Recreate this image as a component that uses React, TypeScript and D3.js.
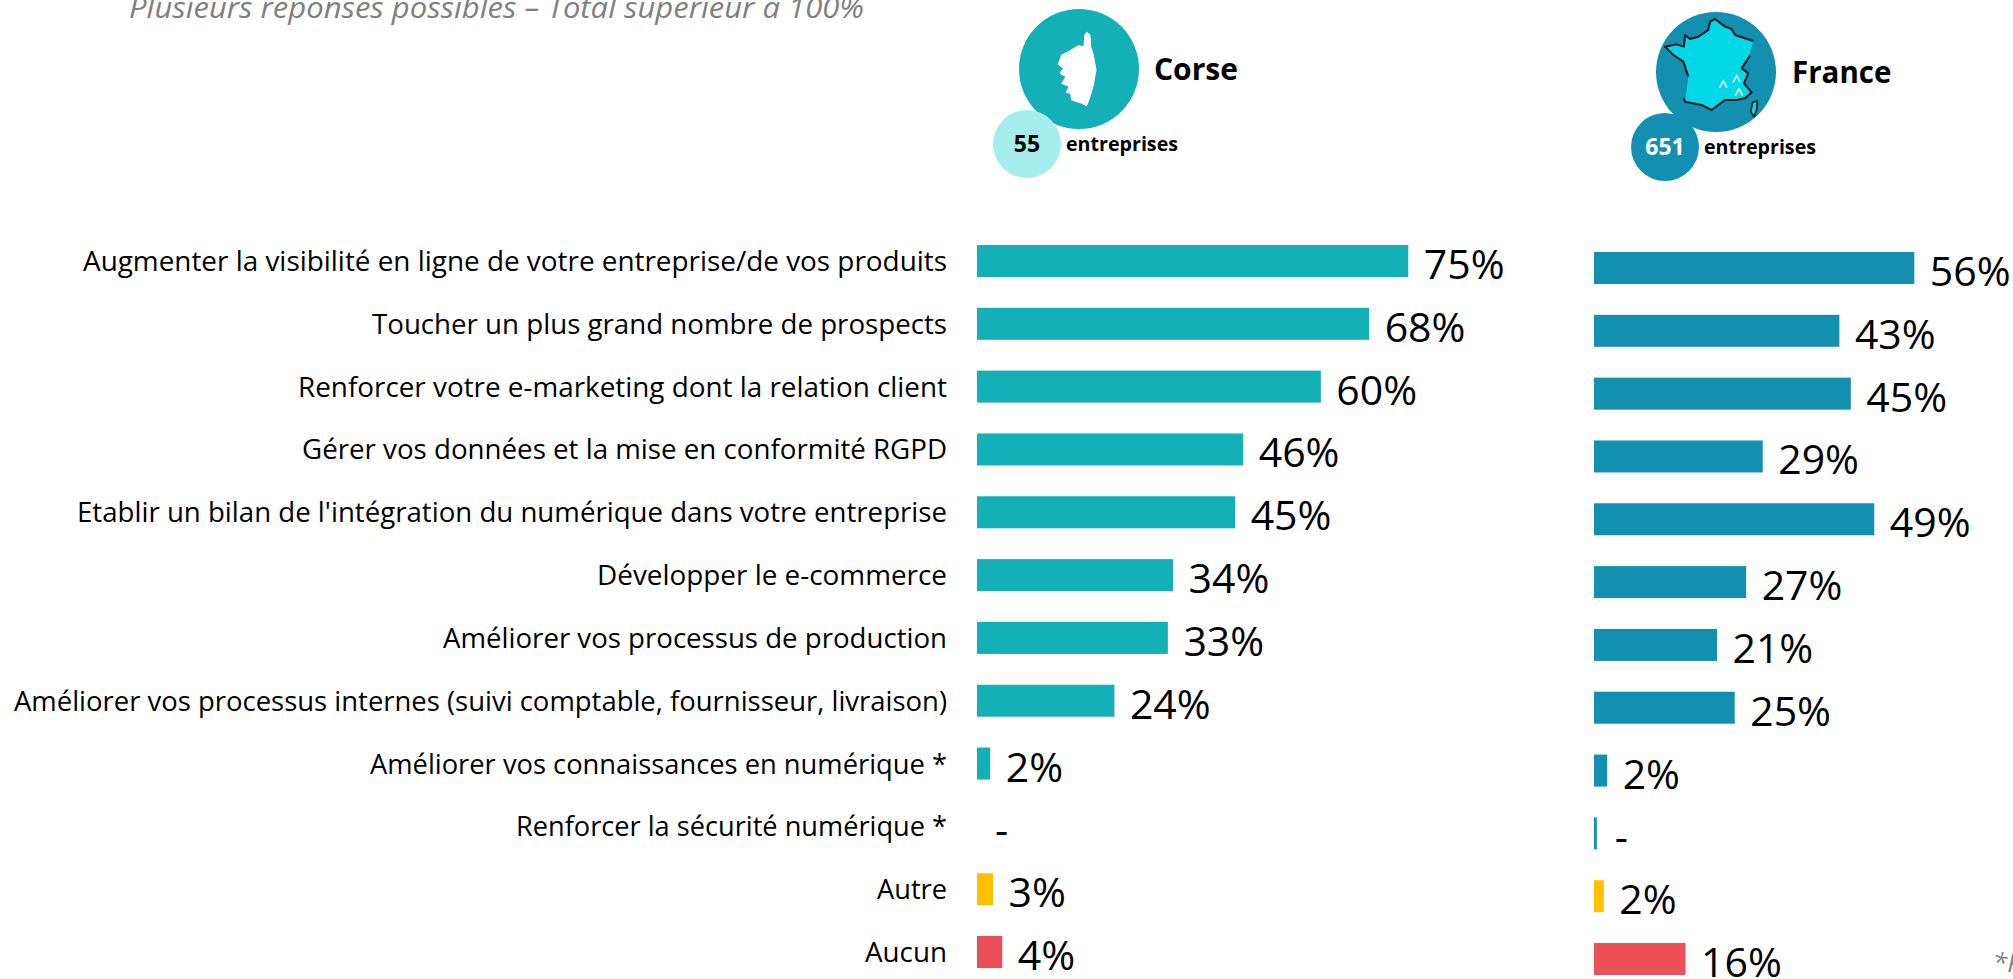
import React from "react";
import * as d3 from "d3";

const categories = [
  "Augmenter la visibilité en ligne de votre entreprise/de vos produits",
  "Toucher un plus grand nombre de prospects",
  "Renforcer votre e-marketing dont la relation client",
  "Gérer vos données et la mise en conformité RGPD",
  "Etablir un bilan de l'intégration du numérique dans votre entreprise",
  "Développer le e-commerce",
  "Améliorer vos processus de production",
  "Améliorer vos processus internes (suivi comptable, fournisseur, livraison)",
  "Améliorer vos connaissances en numérique *",
  "Renforcer la sécurité numérique *",
  "Autre",
  "Aucun",
];
const categoryTextWidths = [864, 575, 649, 645, 870, 350, 504, 933, 577, 431, 70, 82];
const corseValues = [75, 68.2, 59.8, 46.3, 44.9, 34.1, 33.2, 23.9, 2.3, 0, 2.8, 4.4];
const corseLabels = ["75%", "68%", "60%", "46%", "45%", "34%", "33%", "24%", "2%", "-", "3%", "4%"];
const franceValues = [56, 42.9, 44.9, 29.5, 49, 26.6, 21.5, 24.6, 2.3, 0.5, 1.7, 16];
const franceLabels = ["56%", "43%", "45%", "29%", "49%", "27%", "21%", "25%", "2%", "-", "2%", "16%"];

const FONT = "'Open Sans', 'Noto Sans', sans-serif";
const TEAL = "#13b0b8";
const BLUE = "#1390b0";
const YEL = "#ffc000";
const RED = "#e95058";
const ROW = 62.82;

const line = d3.line();
const franceOutline: [number, number][] = [[225,42],[255,65],[275,72],[285,90],[340,108],[328,150],[305,190],[325,205],[312,235],[335,262],[315,280],[290,285],[255,285],[235,300],[215,315],[185,300],[135,290],[145,215],[130,170],[100,150],[75,125],[110,118],[132,125],[135,90],[150,102],[175,95],[205,75],[210,50]];
const franceCoastWest: [number, number][] = [[145,215],[130,170],[100,150],[75,125],[110,118],[132,125],[135,90],[150,102],[175,95],[205,75],[210,50],[225,42],[255,65],[275,72],[285,90],[340,108]];
const franceCoastEast: [number, number][] = [[330,152],[305,190],[325,205],[312,235],[335,262],[315,280],[290,285],[255,285],[235,300],[215,315],[185,300],[135,290],[131,280]];
const corsicaSmall: [number, number][] = [[338,292],[352,288],[350,315],[342,335],[332,320]];
const corsicaLarge: [number, number][] = [[225,88],[232,82],[240,90],[242,125],[250,150],[258,195],[250,240],[240,275],[230,302],[215,295],[185,285],[182,265],[168,262],[178,245],[155,235],[168,215],[150,205],[160,190],[145,178],[155,150],[175,140],[205,122],[222,125]];
const peaks: [number, number][] = [[250,238],[290,222],[297,262]];

function Bars({ values, labels, x0, y0, span, color }: any) {
  const x = d3.scaleLinear().domain([0, 100]).range([x0, x0 + span]);
  const y = d3.scaleLinear().domain([0, 1]).range([y0, y0 + ROW]);
  const colorOf = (i: number) => (i === 10 ? YEL : i === 11 ? RED : color);
  return (
    <g>
      {values.map((v: number, i: number) => (
        <g key={i}>
          {v > 0 && <rect x={x(0)} y={y(i)} width={x(v) - x(0)} height={32} fill={colorOf(i)} />}
          <text x={x(v) + (labels[i] === "-" ? 18 : 15.5)} y={y(i) + 34} fontSize={41} fontFamily={FONT} fill="#000">{labels[i]}</text>
        </g>
      ))}
    </g>
  );
}

export default function App() {
  const y = (i: number) => 245 + i * ROW;
  return (
    <svg width={2013} height={979} style={{ position: "absolute", left: 0, top: 0, background: "#fff" }}>
      <text x={129} y={18} fontSize={29} fontStyle="italic" fontFamily={FONT} fill="#7f7f7f" textLength={735} lengthAdjust="spacingAndGlyphs">Plusieurs réponses possibles – Total supérieur à 100%</text>
      {categories.map((c, i) => (
        <text key={c} x={947 - categoryTextWidths[i]} y={y(i) + 26} fontSize={28} fontFamily={FONT} fill="#000" textLength={categoryTextWidths[i]} lengthAdjust="spacingAndGlyphs">{c}</text>
      ))}
      <Bars values={corseValues} labels={corseLabels} x0={977} y0={245} span={575} color={TEAL} />
      <Bars values={franceValues} labels={franceLabels} x0={1594} y0={252} span={572} color={BLUE} />

      <circle cx={1079} cy={69} r={60} fill={TEAL} />
      <g transform="translate(1010,5) scale(0.3333)">
        <path d={line(corsicaLarge) + "Z"} fill="#fff" stroke="#fff" strokeWidth={3} strokeLinejoin="round" />
      </g>
      <circle cx={1027} cy={144} r={34} fill="#a6eeee" />
      <text x={1154} y={80} fontSize={30} fontWeight={700} fontFamily={FONT}>Corse</text>
      <text x={1027} y={152} textAnchor="middle" fontSize={23} fontWeight={700} fontFamily={FONT}>55</text>
      <text x={1066} y={151} fontSize={20} fontWeight={700} fontFamily={FONT} textLength={112} lengthAdjust="spacingAndGlyphs">entreprises</text>

      <circle cx={1716} cy={72} r={60} fill={BLUE} />
      <g transform="translate(1640,5) scale(0.3333)">
        <path d={line(franceOutline) + "Z"} fill="#03d9e6" />
        <path d={line(franceCoastWest) ?? ""} fill="none" stroke="#0b1a22" strokeWidth={6} strokeLinejoin="round" />
        <path d={line(franceCoastEast) ?? ""} fill="none" stroke="#0b1a22" strokeWidth={6} strokeLinejoin="round" />
        <path d={line(corsicaSmall) + "Z"} fill="#03d9e6" stroke="#0b1a22" strokeWidth={5} strokeLinejoin="round" />
        {peaks.map(([px, py]) => (
          <path key={px} d={line([[px - 11, py + 10], [px, py - 10], [px + 11, py + 10]]) ?? ""} fill="none" stroke="#d8f8fa" strokeWidth={5} />
        ))}
      </g>
      <circle cx={1665} cy={147} r={34} fill={BLUE} />
      <text x={1792} y={83} fontSize={29.5} fontWeight={700} fontFamily={FONT}>France</text>
      <text x={1665} y={155} textAnchor="middle" fontSize={23} fontWeight={700} fontFamily={FONT} fill="#fff">651</text>
      <text x={1704} y={154} fontSize={20} fontWeight={700} fontFamily={FONT} textLength={112} lengthAdjust="spacingAndGlyphs">entreprises</text>

      <text x={1993} y={972} fontSize={26} fontStyle="italic" fontFamily={FONT} fill="#7f7f7f">*P</text>
    </svg>
  );
}
